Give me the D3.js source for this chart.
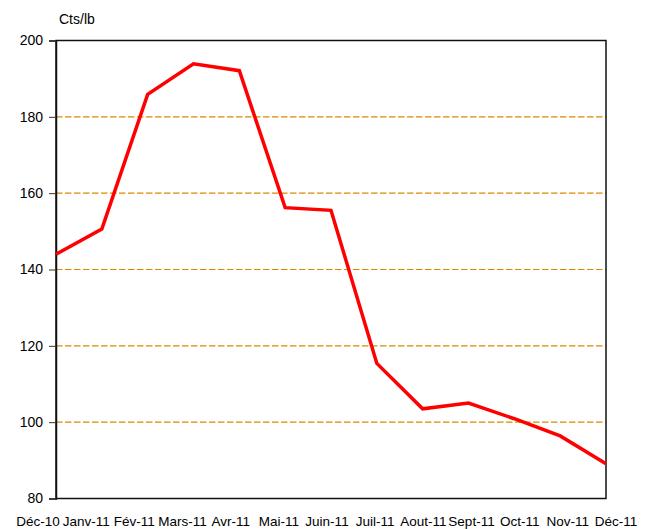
<!DOCTYPE html>
<html>
<head>
<meta charset="utf-8">
<script src="https://d3js.org/d3.v7.min.js"></script>
<style>
  body { margin: 0; background: #fff; }
  text { font-family: "Liberation Sans", Arial, sans-serif; fill: #000; }
</style>
</head>
<body>
<svg width="650" height="529"></svg>
<script>
// months shown on the x axis
var months = ["Déc-10", "Janv-11", "Fév-11", "Mars-11", "Avr-11", "Mai-11", "Juin-11",
              "Juil-11", "Aout-11", "Sept-11", "Oct-11", "Nov-11", "Déc-11"];
// price, cents per pound
var prices = [144.0, 150.6, 185.9, 193.9, 192.1, 156.2, 155.5,
              115.4, 103.5, 105.0, 100.9, 96.4, 89.1];
var yTicks = [80, 100, 120, 140, 160, 180, 200];
var gridValues = [100, 120, 140, 160, 180];
var unitLabel = "Cts/lb";

var svg = d3.select("svg"),
    plotLeft = 56, plotRight = 606, plotTop = 40.5, plotBottom = 498.5;

var x = d3.scalePoint()
    .domain(months)
    .range([plotLeft, plotRight]);
// labels are spread a little wider than the points in the original
var xLabel = d3.scalePoint()
    .domain(months)
    .range([38, 616]);
var y = d3.scaleLinear()
    .domain([80, 200])
    .range([plotBottom, plotTop]);

// dashed gridlines
svg.append("g").selectAll("line")
    .data(gridValues)
    .enter().append("line")
      .attr("x1", plotLeft)
      .attr("x2", plotRight)
      .attr("y1", function(d){ return y(d); })
      .attr("y2", function(d){ return y(d); })
      .attr("stroke", "#DB8A00")
      .attr("stroke-width", 1.2)
      .attr("stroke-dasharray", "6.5,2.5");

// plot frame
svg.append("rect")
    .attr("x", plotLeft)
    .attr("y", plotTop)
    .attr("width", plotRight - plotLeft)
    .attr("height", plotBottom - plotTop)
    .attr("fill", "none")
    .attr("stroke", "#111")
    .attr("stroke-width", 1.5);

// y axis
var yAxis = svg.append("g")
    .attr("transform", "translate(" + plotLeft + ",0)")
    .call(d3.axisLeft(y).tickValues(yTicks).tickSize(7).tickPadding(6));
yAxis.select(".domain").attr("stroke", "#111").attr("stroke-width", 1.5);
yAxis.selectAll(".tick line").attr("stroke", "#333");
yAxis.selectAll("text")
    .style("font-family", "'Liberation Sans', Arial, sans-serif")
    .style("font-size", "14px")
    .attr("fill", "#000");

// x labels
svg.append("g").selectAll("text")
    .data(months)
    .enter().append("text")
      .attr("x", function(d){ return xLabel(d); })
      .attr("y", 526)
      .attr("text-anchor", "middle")
      .style("font-size", "13.5px")
      .text(function(d){ return d; });

// unit label
svg.append("text")
    .attr("x", 59)
    .attr("y", 24)
    .style("font-size", "14px")
    .text(unitLabel);

// price line
var line = d3.line()
    .x(function(d, i){ return x(months[i]); })
    .y(function(d){ return y(d); });

svg.append("path")
    .datum(prices)
    .attr("d", line)
    .attr("fill", "none")
    .attr("stroke", "#FF0000")
    .attr("stroke-width", 3.5)
    .attr("stroke-linejoin", "miter");
</script>
</body>
</html>
